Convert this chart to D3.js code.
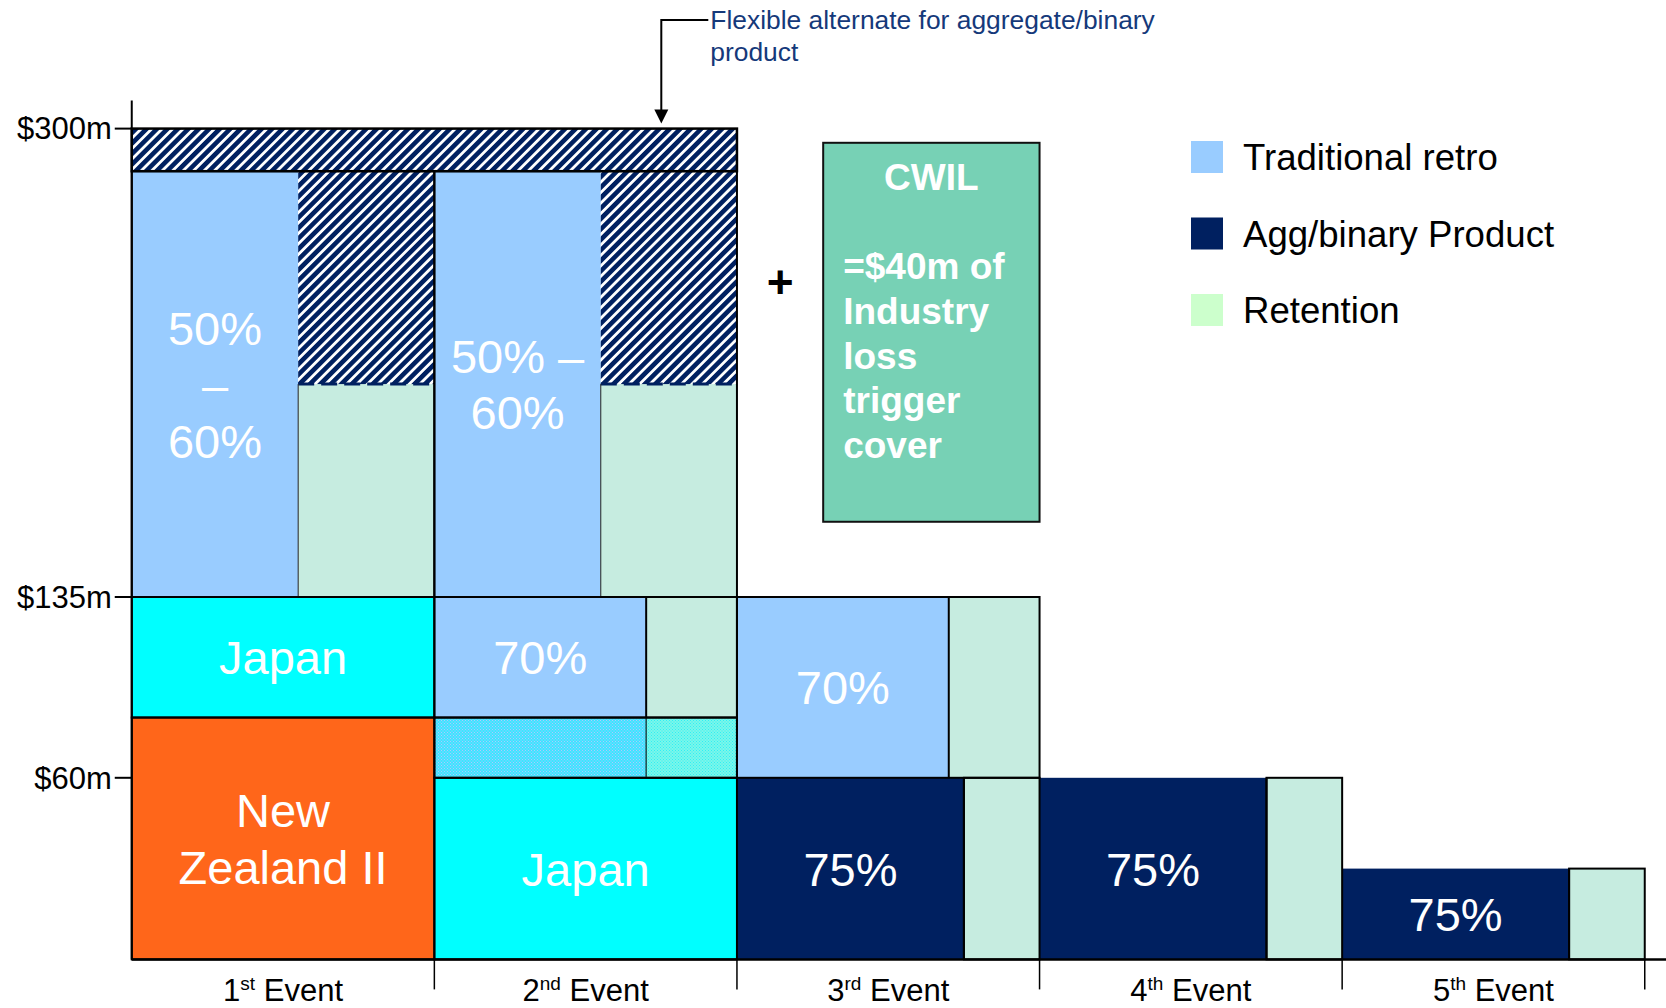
<!DOCTYPE html>
<html>
<head>
<meta charset="utf-8">
<script src="https://cdn.jsdelivr.net/npm/d3@7"></script>
<style>
  html, body { margin: 0; padding: 0; background: #fff; }
  svg { display: block; font-family: "Liberation Sans", Arial, sans-serif; }
</style>
</head>
<body>
<svg id="chart" width="1666" height="1008"></svg>
<script>
// ---- Programme data ----
const events = ["1st Event", "2nd Event", "3rd Event", "4th Event", "5th Event"];
const eventOrdinals = ["1", "2", "3", "4", "5"];
const eventSuffixes = ["st", "nd", "rd", "th", "th"];

const yTickValues = [60, 135, 300];
const yTickLabels = ["$60m", "$135m", "$300m"];

// Layers of cover per event: attachment / exhaustion in $m, share placed, kind, label
const layerEvent  = ["1st Event", "1st Event", "1st Event", "2nd Event", "2nd Event", "2nd Event", "2nd Event", "3rd Event", "3rd Event", "4th Event", "5th Event"];
const layerLow    = [0,   85,  135, 0,   60,   85,   135,  0,    60,   0,    0];
const layerHigh   = [85,  135, 285, 60,  85,   135,  285,  60,   135,  60,   30];
const layerShare  = [1,   1,   0.55, 1,  0.70, 0.70, 0.55, 0.75, 0.70, 0.75, 0.75];
const layerKind   = ["nz", "japan", "retro", "japan", "overlap", "retro", "retro", "agg", "retro", "agg", "agg"];
const layerLabels = [["New", "Zealand II"], ["Japan"], ["50%", "–", "60%"], ["Japan"], [], ["70%"], ["50% –", "60%"], ["75%"], ["70%"], ["75%"], ["75%"]];

// Flexible alternate (aggregate/binary) on the upper layers of events 1–2
const altEvents = ["1st Event", "2nd Event"];
const altFrom = 210;       // alternate sits above retention from here up to the layer top
const altBandLow = 285;    // full-width alternate band
const altBandHigh = 300;

const legendLabels = ["Traditional retro", "Agg/binary Product", "Retention"];
const cwilLines = ["CWIL", "", "=$40m of", "Industry", "loss", "trigger", "cover"];
const noteLines = ["Flexible alternate for aggregate/binary", "product"];

// ---- Colours ----
const colors = {
  retro: "#99CCFF",
  agg: "#002060",
  retention: "#C6ECE0",
  retentionKey: "#CCFFCC",
  japan: "#00FFFF",
  nz: "#FF661A",
  cwil: "#77D1B5",
  note: "#15397A"
};
const legendColors = [colors.retro, colors.agg, colors.retentionKey];

// ---- Layout ----
const svg = d3.select("#chart");
const plotLeft = 131.75, plotRight = 1644.75;

const x = d3.scaleBand().domain(events).range([plotLeft, plotRight]).padding(0);
const bw = x.bandwidth();
// Schematic (piecewise) $m axis
const y = d3.scaleLinear().domain([0, 60, 135, 300]).range([959.4, 777.8, 597, 128.6]);

const defs = svg.append("defs");
const hatch = defs.append("pattern")
  .attr("id", "hatch").attr("patternUnits", "userSpaceOnUse")
  .attr("width", 12).attr("height", 7.4)
  .attr("patternTransform", "rotate(-45)");
hatch.append("rect").attr("width", 12).attr("height", 7.4).attr("fill", "#fff");
hatch.append("rect").attr("width", 12).attr("height", 4.6).attr("fill", colors.agg);

function dotted(id, base, dot) {
  const p = defs.append("pattern").attr("id", id).attr("patternUnits", "userSpaceOnUse")
    .attr("width", 3).attr("height", 3);
  p.append("rect").attr("width", 3).attr("height", 3).attr("fill", base);
  p.append("rect").attr("x", 0).attr("y", 0).attr("width", 1).attr("height", 1).attr("fill", dot);
  p.append("rect").attr("x", 1.5).attr("y", 1.5).attr("width", 1).attr("height", 1).attr("fill", dot);
}
dotted("dotBlue", "#3BE6FF", "#B4C4FF");
dotted("dotGreen", "#7AF6EA", "#2EF0F4");

const layers = layerEvent.map((e, i) => ({
  event: e, low: layerLow[i], high: layerHigh[i], share: layerShare[i],
  kind: layerKind[i], label: layerLabels[i]
}));

const gFill = svg.append("g");
const gLine = svg.append("g");
const gText = svg.append("g");

function rect(g, x0, x1, v0, v1, fill) {
  return g.append("rect")
    .attr("x", x0).attr("y", y(v1))
    .attr("width", x1 - x0).attr("height", y(v0) - y(v1))
    .attr("fill", fill);
}

layers.forEach(d => {
  const x0 = x(d.event), x1 = x0 + bw, xs = x0 + bw * d.share;
  if (d.kind === "nz" || d.kind === "japan") {
    rect(gFill, x0, x1, d.low, d.high, colors[d.kind]);
  } else if (d.kind === "overlap") {
    rect(gFill, x0, xs, d.low, d.high, "url(#dotBlue)");
    rect(gFill, xs, x1, d.low, d.high, "url(#dotGreen)");
    gLine.append("line").attr("x1", xs).attr("x2", xs).attr("y1", y(d.high)).attr("y2", y(d.low))
      .attr("stroke", "#1a4a4a").attr("stroke-width", 1.5);
  } else {
    rect(gFill, x0, xs, d.low, d.high, colors[d.kind]);
    if (altEvents.includes(d.event) && d.high > altFrom) {
      rect(gFill, xs, x1, d.low, altFrom, colors.retention);
      rect(gFill, xs, x1, altFrom, d.high, "url(#hatch)");
      gLine.append("line").attr("x1", xs).attr("x2", x1).attr("y1", y(altFrom)).attr("y2", y(altFrom))
        .attr("stroke", colors.agg).attr("stroke-width", 3).attr("stroke-dasharray", "16,7");
      gLine.append("line").attr("x1", xs).attr("x2", xs).attr("y1", y(altFrom)).attr("y2", y(d.low))
        .attr("stroke", "#222").attr("stroke-width", 1);
    } else {
      rect(gFill, xs, x1, d.low, d.high, colors.retention);
      gLine.append("line").attr("x1", xs).attr("x2", xs).attr("y1", y(d.high)).attr("y2", y(d.low))
        .attr("stroke", "#000").attr("stroke-width", 2);
    }
  }
  // layer outline
  gLine.append("rect")
    .attr("x", x0).attr("y", y(d.high)).attr("width", bw).attr("height", y(d.low) - y(d.high))
    .attr("fill", "none").attr("stroke", d.kind === "agg" ? "none" : "#000").attr("stroke-width", 2);
  if (d.kind === "agg") {
    gLine.append("rect")
      .attr("x", xs).attr("y", y(d.high)).attr("width", x1 - xs).attr("height", y(d.low) - y(d.high))
      .attr("fill", "none").attr("stroke", "#000").attr("stroke-width", 2);
  }

  // labels centred in the placed share
  if (d.label.length) {
    const cx = (d.kind === "nz" || d.kind === "japan") ? (x0 + x1) / 2 : (x0 + xs) / 2;
    const cy = (y(d.low) + y(d.high)) / 2;
    const lh = 56.5;
    d.label.forEach((t, k) => {
      gText.append("text")
        .attr("x", cx)
        .attr("y", cy + (k - (d.label.length - 1) / 2) * lh)
        .attr("dy", "0.36em")
        .attr("text-anchor", "middle")
        .attr("fill", "#fff").attr("font-size", 47)
        .text(t);
    });
  }
});

// full-width alternate band above events 1–2
const altX0 = x(altEvents[0]), altX1 = x(altEvents[altEvents.length - 1]) + bw;
rect(gFill, altX0, altX1, altBandLow, altBandHigh, "url(#hatch)");
gLine.append("rect")
  .attr("x", altX0).attr("y", y(altBandHigh)).attr("width", altX1 - altX0).attr("height", y(altBandLow) - y(altBandHigh))
  .attr("fill", "none").attr("stroke", "#000").attr("stroke-width", 2.5);

// ---- Axes ----
const yAxis = svg.append("g");
yAxis.append("line").attr("x1", plotLeft).attr("x2", plotLeft).attr("y1", y(300) - 28).attr("y2", y(0))
  .attr("stroke", "#000").attr("stroke-width", 2);
yTickValues.forEach((v, i) => {
  yAxis.append("line").attr("x1", plotLeft - 17).attr("x2", plotLeft).attr("y1", y(v)).attr("y2", y(v))
    .attr("stroke", "#000").attr("stroke-width", 2);
  yAxis.append("text").attr("x", plotLeft - 20).attr("y", y(v)).attr("dy", "0.35em")
    .attr("text-anchor", "end").attr("font-size", 31).attr("fill", "#000")
    .text(yTickLabels[i]);
});

const xAxis = svg.append("g");
xAxis.append("line").attr("x1", plotLeft).attr("x2", 1666).attr("y1", y(0)).attr("y2", y(0))
  .attr("stroke", "#000").attr("stroke-width", 2.5);
events.forEach((e, i) => {
  const xr = x(e) + bw;
  xAxis.append("line").attr("x1", xr).attr("x2", xr).attr("y1", y(0)).attr("y2", y(0) + 30)
    .attr("stroke", "#000").attr("stroke-width", 1.5);
  const t = xAxis.append("text").attr("x", x(e) + bw / 2).attr("y", y(0) + 42)
    .attr("text-anchor", "middle").attr("font-size", 31).attr("fill", "#000");
  t.append("tspan").text(eventOrdinals[i]);
  t.append("tspan").attr("font-size", 19).attr("dy", -11).text(eventSuffixes[i]);
  t.append("tspan").attr("dy", 11).text(" Event");
});

// ---- CWIL cover box ----
const cwX0 = x("3rd Event") + bw * 0.285, cwX1 = x("3rd Event") + bw;
const cwTop = y(295), cwBot = y(161.5);
svg.append("rect").attr("x", cwX0).attr("y", cwTop).attr("width", cwX1 - cwX0).attr("height", cwBot - cwTop)
  .attr("fill", colors.cwil).attr("stroke", "#111").attr("stroke-width", 2);
cwilLines.forEach((t, k) => {
  if (!t) return;
  svg.append("text")
    .attr("x", k === 0 ? (cwX0 + cwX1) / 2 : cwX0 + 20)
    .attr("y", cwTop + 34 + k * 44.6)
    .attr("dy", "0.36em")
    .attr("text-anchor", k === 0 ? "middle" : "start")
    .attr("font-size", 37).attr("font-weight", "bold").attr("fill", "#fff")
    .text(t);
});
svg.append("text")
  .attr("x", (x("2nd Event") + bw + cwX0) / 2).attr("y", y(246)).attr("dy", "0.36em")
  .attr("text-anchor", "middle").attr("font-size", 46).attr("font-weight", "bold").attr("fill", "#000")
  .text("+");

// ---- Annotation with arrow ----
const arrowX = x("2nd Event") + bw * 0.75;
const noteX = arrowX + 49;
svg.append("path")
  .attr("d", `M${noteX - 2},20 H${arrowX} V${y(altBandHigh) - 18}`)
  .attr("fill", "none").attr("stroke", "#000").attr("stroke-width", 2);
svg.append("path")
  .attr("d", `M${arrowX - 7},${y(altBandHigh) - 19} L${arrowX + 7},${y(altBandHigh) - 19} L${arrowX},${y(altBandHigh) - 5} Z`)
  .attr("fill", "#000");
noteLines.forEach((t, k) => {
  svg.append("text").attr("x", noteX).attr("y", 19 + k * 32).attr("dy", "0.36em")
    .attr("font-size", 26.4).attr("fill", colors.note).text(t);
});

// ---- Legend ----
const legend = svg.append("g").attr("transform", "translate(1191,141)");
legendLabels.forEach((t, i) => {
  const g = legend.append("g").attr("transform", `translate(0,${i * 76.5})`);
  g.append("rect").attr("width", 32).attr("height", 32).attr("fill", legendColors[i]);
  g.append("text").attr("x", 52).attr("y", 16).attr("dy", "0.36em")
    .attr("font-size", 36.6).attr("fill", "#000").text(t);
});
</script>
</body>
</html>
